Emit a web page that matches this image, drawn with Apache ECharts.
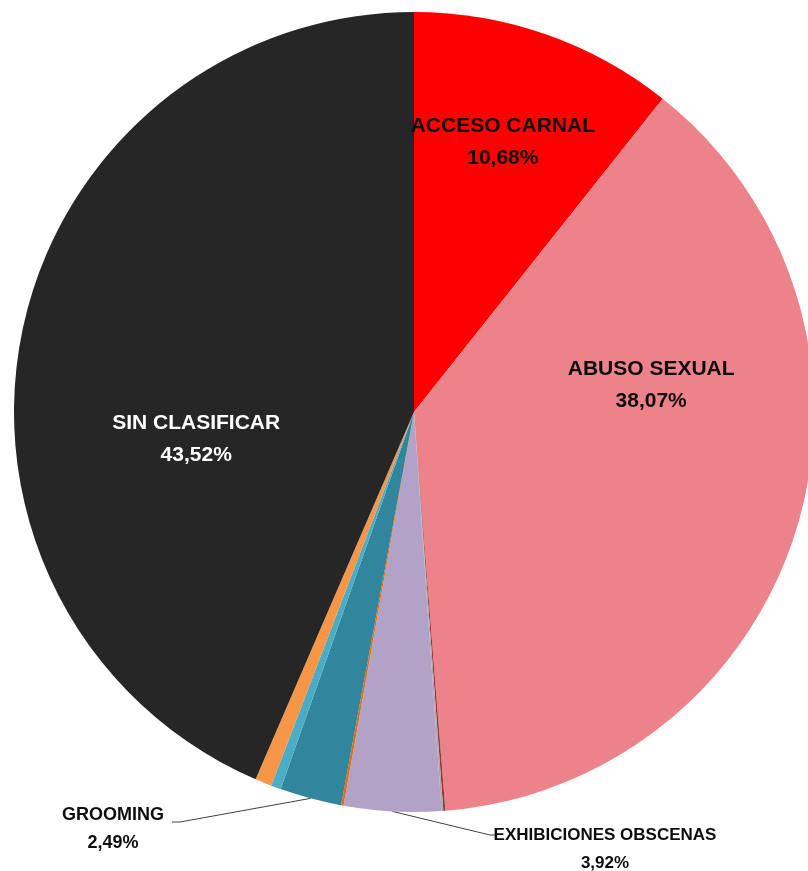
<!DOCTYPE html>
<html>
<head>
<meta charset="utf-8">
<script src="https://cdn.jsdelivr.net/npm/echarts@6/dist/echarts.min.js"></script>
<style>html,body{margin:0;padding:0;background:#fff}#c{width:808px;height:871px}</style>
</head>
<body>
<div id="c"></div>
<script>
var categories = ['ACCESO CARNAL','ABUSO SEXUAL','OTRO A','OTRO B','EXHIBICIONES OBSCENAS','OTRO C','GROOMING','OTRO D','OTRO E','SIN CLASIFICAR'];
var values = [10.68, 38.07, 0.08, 0.07, 3.92, 0.10, 2.49, 0.40, 0.67, 43.52];
var colors = ['#FF0000','#EC838A','#953735','#A6A6A6','#B3A2C7','#E46C0A','#31859C','#4BACC6','#F79646','#262626'];
var shownLabels = ['ACCESO CARNAL','ABUSO SEXUAL','EXHIBICIONES OBSCENAS','GROOMING','SIN CLASIFICAR'];

var FONT = "'Liberation Sans Narrow','Arial Narrow','Liberation Sans',sans-serif";
var insideCfg = {
  'ACCESO CARNAL': {offset:[22,-78], color:'#0d0d0d'},
  'ABUSO SEXUAL': {offset:[43,-86], color:'#0d0d0d'},
  'SIN CLASIFICAR': {offset:[-19,68], color:'#ffffff'}
};
var outsideSize = {'GROOMING':18, 'EXHIBICIONES OBSCENAS':17};
function fmt(p){ return p.name + '\n' + p.value.toFixed(2).replace('.', ',') + '%'; }

var data = categories.map(function(name, i){
  var item = {name:name, value:values[i], itemStyle:{color:colors[i]}};
  if (insideCfg[name]) {
    item.label = {show:true, position:'inside', offset:insideCfg[name].offset, color:insideCfg[name].color,
      fontFamily:FONT, fontWeight:'bold', fontSize:21, lineHeight:32, formatter:fmt};
    item.labelLine = {show:false};
  } else if (shownLabels.indexOf(name) >= 0) {
    item.label = {show:true, position:'outside', color:'#0d0d0d', fontFamily:FONT, fontWeight:'bold',
      fontSize:outsideSize[name], lineHeight:28, formatter:fmt, align:'center'};
    item.labelLine = {show:true, length:20, length2:10, lineStyle:{color:'#404040', width:1}};
  } else {
    item.label = {show:false};
    item.labelLine = {show:false};
  }
  return item;
});

var outsidePos = {
  'GROOMING': {x:113, y:829, line:[[180,822],[172,822]]},
  'EXHIBICIONES OBSCENAS': {x:605, y:849, line:[[490,835],[497,835]]}
};

var chart = echarts.init(document.getElementById('c'));
chart.setOption({
  animation:false,
  series:[{
    type:'pie',
    center:[414,412],
    radius:400,
    startAngle:90,
    clockwise:true,
    avoidLabelOverlap:false,
    minAngle:0,
    data:data,
    labelLayout:function(p){
      var name = categories[p.dataIndex];
      var cfg = outsidePos[name];
      if (!cfg) return {};
      var pts = [p.labelLinePoints ? p.labelLinePoints[0] : cfg.line[0]].concat(cfg.line);
      return {x:cfg.x, y:cfg.y, align:'center', verticalAlign:'middle', labelLinePoints:pts};
    }
  }]
});
</script>
</body>
</html>
